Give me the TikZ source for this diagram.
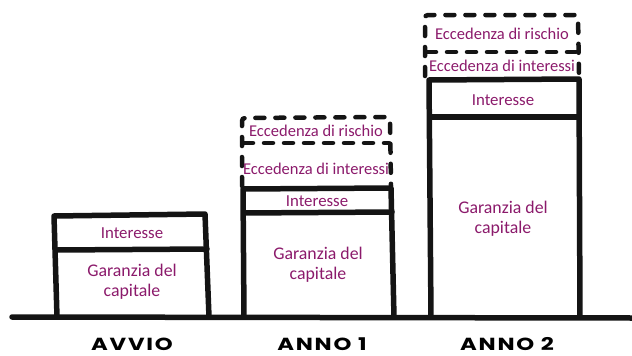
\documentclass[tikz,border=0pt]{standalone}
\usepackage{fontspec}
\setmainfont{Carlito}
\newfontfamily\lblfont[FakeStretch=1.3,LetterSpace=10]{Poppins Bold}
\definecolor{txtpurple}{RGB}{139,26,107}
\tikzset{
  solidline/.style={line width=5.5pt, line join=round, line cap=round, black!92},
  dashline/.style={line width=4.5pt, line cap=round, black!92, dash pattern=on 9pt off 11pt, rounded corners=3pt},
  boxtext/.style={text=txtpurple, font=\fontsize{16.8}{18}\selectfont, inner sep=0pt, anchor=base},
  ecctext/.style={text=txtpurple, font=\fontsize{16.5}{18}\selectfont, inner sep=0pt, anchor=base},
  bigtext/.style={text=txtpurple, font=\fontsize{17.8}{20}\selectfont, inner sep=0pt, align=center},
  yearlabel/.style={font=\lblfont\fontsize{17.5}{18}\selectfont, inner sep=0pt, anchor=base}
}
\begin{document}
\begin{tikzpicture}[x=1pt,y=1pt]
\useasboundingbox (0,0) rectangle (632,-356);
% baseline
\draw[solidline] (12,-317) -- (632,-318);
% AVVIO
\draw[solidline] (57,-317) -- (54,-216) -- (205,-214) -- (209,-317);
\draw[solidline] (57,-250) -- (207,-249);
\node[boxtext] (a-int) at (132,-238) {Interesse};
\node[bigtext] (a-gar) at (132,-282) {Garanzia del\\capitale};
\node[yearlabel] (a-lbl) at (132,-350) {AVVIO};
% ANNO 1
\draw[solidline] (244,-317) -- (243,-189) -- (391,-188) -- (394,-317);
\draw[solidline] (244,-213) -- (392,-212);
\draw[dashline] (242,-186) -- (242,-118) -- (390,-117) -- (391,-186);
\draw[dashline] (244,-143) -- (389,-143);
\node[boxtext] (b-int) at (317,-206) {Interesse};
\node[ecctext] (b-ecci) at (316,-174) {Eccedenza di interessi};
\node[ecctext] (b-eccr) at (316,-136) {Eccedenza di rischio};
\node[bigtext] (b-gar) at (318,-265) {Garanzia del\\capitale};
\node[yearlabel] (b-lbl) at (322,-350) {ANNO 1};
% ANNO 2
\draw[solidline] (431,-317) -- (429,-80) -- (579,-79) -- (580,-317);
\draw[solidline] (430,-117) -- (579,-117);
\draw[dashline] (425,-76) -- (425,-15) -- (578,-15) -- (579,-76);
\draw[dashline] (427,-52) -- (576,-52);
\node[boxtext] (c-int) at (503,-105) {Interesse};
\node[ecctext] (c-ecci) at (502,-71) {Eccedenza di interessi};
\node[ecctext] (c-eccr) at (502,-39) {Eccedenza di rischio};
\node[bigtext] (c-gar) at (503,-219) {Garanzia del\\capitale};
\node[yearlabel] (c-lbl) at (507,-350) {ANNO 2};
\end{tikzpicture}
\end{document}
